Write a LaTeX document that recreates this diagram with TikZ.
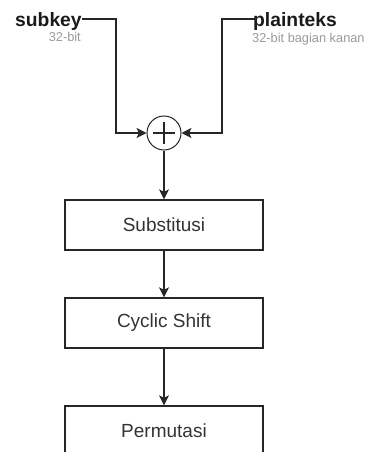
\documentclass[tikz,border=0pt]{standalone}
\usepackage{fontspec}
\setmainfont{Liberation Sans}
\usetikzlibrary{arrows.meta}
\definecolor{lbl}{HTML}{1A1A1A}
\definecolor{sub}{HTML}{9A9A9A}
\definecolor{boxtxt}{HTML}{333333}
\tikzset{
  conn/.style={draw=black!85, line width=1.3pt, -{Stealth[length=10pt,width=10pt,inset=2.5pt]}},
  stepbox/.style={draw=black!85, line width=1.3pt, minimum width=198pt, minimum height=50pt, inner sep=0pt, text=boxtxt, font=\fontsize{19}{22}\selectfont},
  biglbl/.style={inner sep=0pt, text=lbl, font=\fontsize{19.3}{22}\selectfont\bfseries},
  smalllbl/.style={inner sep=0pt, text=sub, font=\fontsize{12.8}{15}\selectfont},
  xorc/.style={circle, draw=black!85, line width=1pt, minimum size=34pt, inner sep=0pt}
}
\begin{document}
\begin{tikzpicture}[x=1pt,y=-1pt]
\clip (0,0) rectangle (370,452);
\useasboundingbox (0,0) rectangle (370,452);
% labels
\node[biglbl, anchor=base west] (sk) at (15,27) {subkey};
\node[smalllbl, anchor=base east] (sk2) at (81,41.5) {32-bit};
\node[biglbl, anchor=base west] (pt) at (253,27) {plainteks};
\node[smalllbl, anchor=base west] (pt2) at (252,42) {32-bit bagian kanan};
% xor
\node[xorc] (x) at (164,133) {};
\draw[line width=2pt, black!85] ([xshift=-11pt]x.center) -- ([xshift=11pt]x.center);
\draw[line width=2pt, black!85] ([yshift=-11pt]x.center) -- ([yshift=11pt]x.center);
% boxes
\node[stepbox] (b1) at (164,225) {Substitusi};
\node[stepbox] (b2) at (164,323) {Cyclic Shift};
\node[stepbox] (b3) at (164,431) {Permutasi};
% connectors
\coordinate (skend) at (82,19);
\coordinate (ptend) at (257,19);
\draw[conn] (skend) -- (116,19) |- (x.west);
\draw[conn] (ptend) -- (222,19) |- (x.east);
\draw[conn] (x.south) -- (b1.north);
\draw[conn] (b1.south) -- (b2.north);
\draw[conn] (b2.south) -- (b3.north);
\end{tikzpicture}
\end{document}
